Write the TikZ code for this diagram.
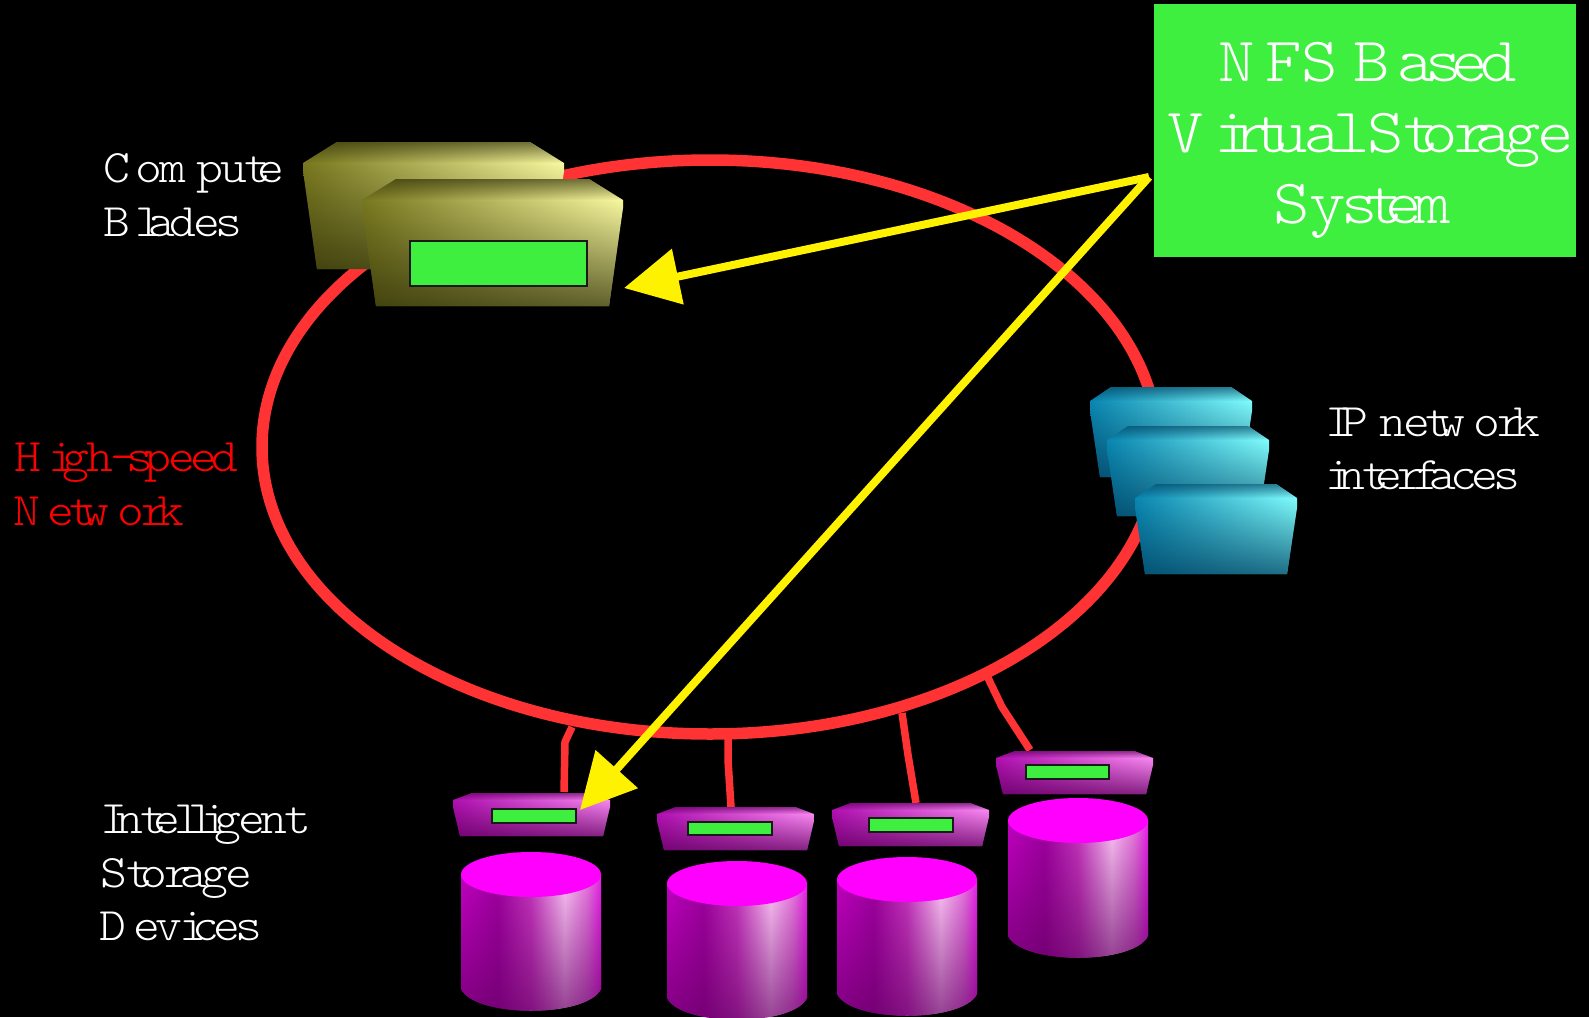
\documentclass[tikz,border=0pt]{standalone}
\usepackage{fontspec}
\usetikzlibrary{arrows.meta,fadings,shapes.geometric}
\newfontfamily\tmsf{Liberation Serif}
\newfontfamily\mnf[Scale=0.97,FakeStretch=1.1]{Latin Modern Mono Light}
\makeatletter
\newcommand\tw[1]{\@tfor\gch:=#1\do{\setbox0\hbox{\tmsf\gch}\hbox to \wd0{\mnf\gch\hss}}}
\makeatother
\definecolor{ringred}{HTML}{FF3333}
\definecolor{boxgreen}{HTML}{3FEF3F}
\definecolor{puremag}{HTML}{FF00FF}
\definecolor{yelL}{HTML}{787820}
\definecolor{yelR}{HTML}{F8F8A0}
\definecolor{yelD}{HTML}{303008}
\definecolor{bluL}{HTML}{0A86B0}
\definecolor{bluR}{HTML}{80FCFC}
\definecolor{bluD}{HTML}{004060}
\definecolor{magL}{HTML}{B010B0}
\definecolor{magR}{HTML}{F888F0}
\definecolor{magD}{HTML}{600060}
\definecolor{cyA}{HTML}{C000C0}
\definecolor{cyB}{HTML}{A000A0}
\definecolor{cyC}{HTML}{C838C0}
\definecolor{cyD}{HTML}{FFC8F8}
\definecolor{cyE}{HTML}{E878E0}
\definecolor{cyF}{HTML}{E820E8}
\definecolor{cyG}{HTML}{600060}
\tikzfading[name=shoulderfade, top color=transparent!35, bottom color=transparent!100]
\tikzfading[name=bodyfade, top color=transparent!100, bottom color=transparent!25]
\tikzfading[name=cylfade, top color=transparent!100, bottom color=transparent!30]
\pgfdeclarehorizontalshading{cylshade}{100bp}{%
 color(0bp)=(cyA); color(25bp)=(cyA); color(38bp)=(cyB); color(50bp)=(cyC);
 color(62bp)=(cyD); color(70bp)=(cyE); color(75bp)=(cyF); color(100bp)=(cyF)}
% x y w h inset shoulder lip bottominset palette
\newcommand\slab[9]{%
 \shade[left color=#9L,right color=#9R]
  ({#1+#5},{#2}) -- ({#1+#3-#5},{#2}) -- ({#1+#3},{#2+#6}) -- ({#1+#3},{#2+#6+#7})
  -- ({#1+#3-#8},{#2+#4}) -- ({#1+#8},{#2+#4}) -- ({#1},{#2+#6+#7}) -- ({#1},{#2+#6}) -- cycle;
 \fill[#9D,path fading=shoulderfade]
  ({#1+#5},{#2}) -- ({#1+#3-#5},{#2}) -- ({#1+#3},{#2+#6}) -- ({#1},{#2+#6}) -- cycle;
 \fill[#9D,path fading=bodyfade]
  ({#1},{#2+#6}) -- ({#1+#3},{#2+#6}) -- ({#1+#3},{#2+#6+#7})
  -- ({#1+#3-#8},{#2+#4}) -- ({#1+#8},{#2+#4}) -- ({#1},{#2+#6+#7}) -- cycle;
}
% x ytop w h
\newcommand\drum[4]{%
 \shade[shading=cylshade]
  ({#1},{#2+22}) -- ({#1},{#2+#4-22})
  .. controls ({#1+0.1*#3},{#2+#4+7}) and ({#1+0.9*#3},{#2+#4+7}) .. ({#1+#3},{#2+#4-22})
  -- ({#1+#3},{#2+22}) -- cycle;
 \fill[cyG,path fading=cylfade]
  ({#1},{#2+22}) -- ({#1},{#2+#4-22})
  .. controls ({#1+0.1*#3},{#2+#4+7}) and ({#1+0.9*#3},{#2+#4+7}) .. ({#1+#3},{#2+#4-22})
  -- ({#1+#3},{#2+22}) -- cycle;
 \fill[puremag] ({#1+#3/2},{#2+22.5}) ellipse[x radius=#3/2,y radius=22.5];
}
\tikzset{
 ringline/.style={draw=ringred,line width=11.5pt,ellipse,inner sep=0pt,outer sep=0pt,minimum width=896pt,minimum height=574pt},
 stub/.style={draw=ringred,line width=7.5pt},
 chip/.style={draw=black!90,line width=2pt,fill=boxgreen,inner sep=0pt,anchor=north west},
 pointer/.style={draw=yellow,line width=8pt,-{Triangle[length=55pt,width=55pt,fill=yellow]}},
 lab/.style={anchor=base west,inner sep=0pt,text=white,font=\fontsize{48}{48}\selectfont\tmsf},
 biglab/.style={anchor=base west,inner sep=0pt,text=white,font=\fontsize{65}{65}\selectfont\tmsf},
}
\begin{document}
\begin{tikzpicture}[x=1pt,y=-1pt]
\useasboundingbox (0,0) rectangle (1589,1017);
\fill[black] (0,0) rectangle (1589,1017);
% ring
\node[ringline] (ring) at (710,447) {};
% stubs
\coordinate (s1a) at (572,727); \coordinate (s1b) at (565,742); \coordinate (s1c) at (564,792);
\coordinate (s2a) at (728,735); \coordinate (s2b) at (728,760); \coordinate (s2c) at (731,807);
\coordinate (s3a) at (902,713); \coordinate (s3b) at (908,755); \coordinate (s3c) at (916,803);
\coordinate (s4a) at (988,678); \coordinate (s4b) at (1002,707); \coordinate (s4c) at (1030,750);
\draw[stub] (s1a) -- (s1b) -- (s1c);
\draw[stub] (s2a) -- (s2b) -- (s2c);
\draw[stub] (s3a) -- (s3b) -- (s3c);
\draw[stub] (s4a) -- (s4b) -- (s4c);
% compute blades
\slab{303}{142}{261}{127}{34}{21}{8}{14}{yel}
\slab{362}{179}{261}{127}{34}{21}{8}{14}{yel}
\node[chip,minimum width=177pt,minimum height=45pt] (cchip) at (409,240) {};
% network interfaces
\slab{1090}{387}{162}{90}{21}{14}{10}{10}{blu}
\slab{1107}{426}{162}{90}{21}{14}{10}{10}{blu}
\slab{1135}{484}{162}{90}{21}{14}{10}{10}{blu}
% storage
\drum{461}{852}{140}{159}
\drum{667}{861}{140}{159}
\drum{837}{857}{140}{159}
\drum{1008}{798}{140}{160}
\slab{453}{793}{157}{43}{19}{7}{7}{7}{mag}
\slab{657}{807}{157}{43}{19}{7}{7}{7}{mag}
\slab{832}{803}{157}{43}{19}{7}{7}{7}{mag}
\slab{996}{751}{157}{43}{19}{7}{7}{7}{mag}
\node[chip,minimum width=84pt,minimum height=14pt] (chip1) at (491,808) {};
\node[chip,minimum width=84pt,minimum height=13pt] (chip2) at (687,821) {};
\node[chip,minimum width=84pt,minimum height=14pt] (chip3) at (868,817) {};
\node[chip,minimum width=83pt,minimum height=14pt] (chip4) at (1025,764) {};
% NFS box
\node[fill=boxgreen,anchor=north west,inner sep=0pt,minimum width=422pt,minimum height=253pt] (nfs) at (1154,4) {};
\node[biglab] (nfs1) at (1218,81) {\tw{NFS} \tw{Based}};
\node[biglab] (nfs2) at (1167,152) {\tw{Virtual} \tw{Storage}};
\node[biglab] (nfs3) at (1273,223) {\tw{System}};
% pointers
\coordinate (apex) at (1149,177);
\coordinate (tipa) at (624,288);
\coordinate (tipb) at (580,810);
\draw[pointer] (apex) -- (tipa);
\draw[pointer] (apex) -- (tipb);
% labels
\node[lab] (l1) at (103,182) {\tw{Compute}};
\node[lab] (l2) at (103,236) {\tw{Blades}};
\node[lab,text=red] (l3) at (14,471) {\tw{High-speed}};
\node[lab,text=red] (l4) at (13,525) {\tw{Network}};
\node[lab] (l5) at (100,833) {\tw{Intelligent}};
\node[lab] (l6) at (100,887) {\tw{Storage}};
\node[lab] (l7) at (99,940) {\tw{Devices}};
\node[lab] (l8) at (1325,436) {\tw{IP} \tw{network}};
\node[lab] (l9) at (1325,489) {\tw{interfaces}};
\end{tikzpicture}
\end{document}
